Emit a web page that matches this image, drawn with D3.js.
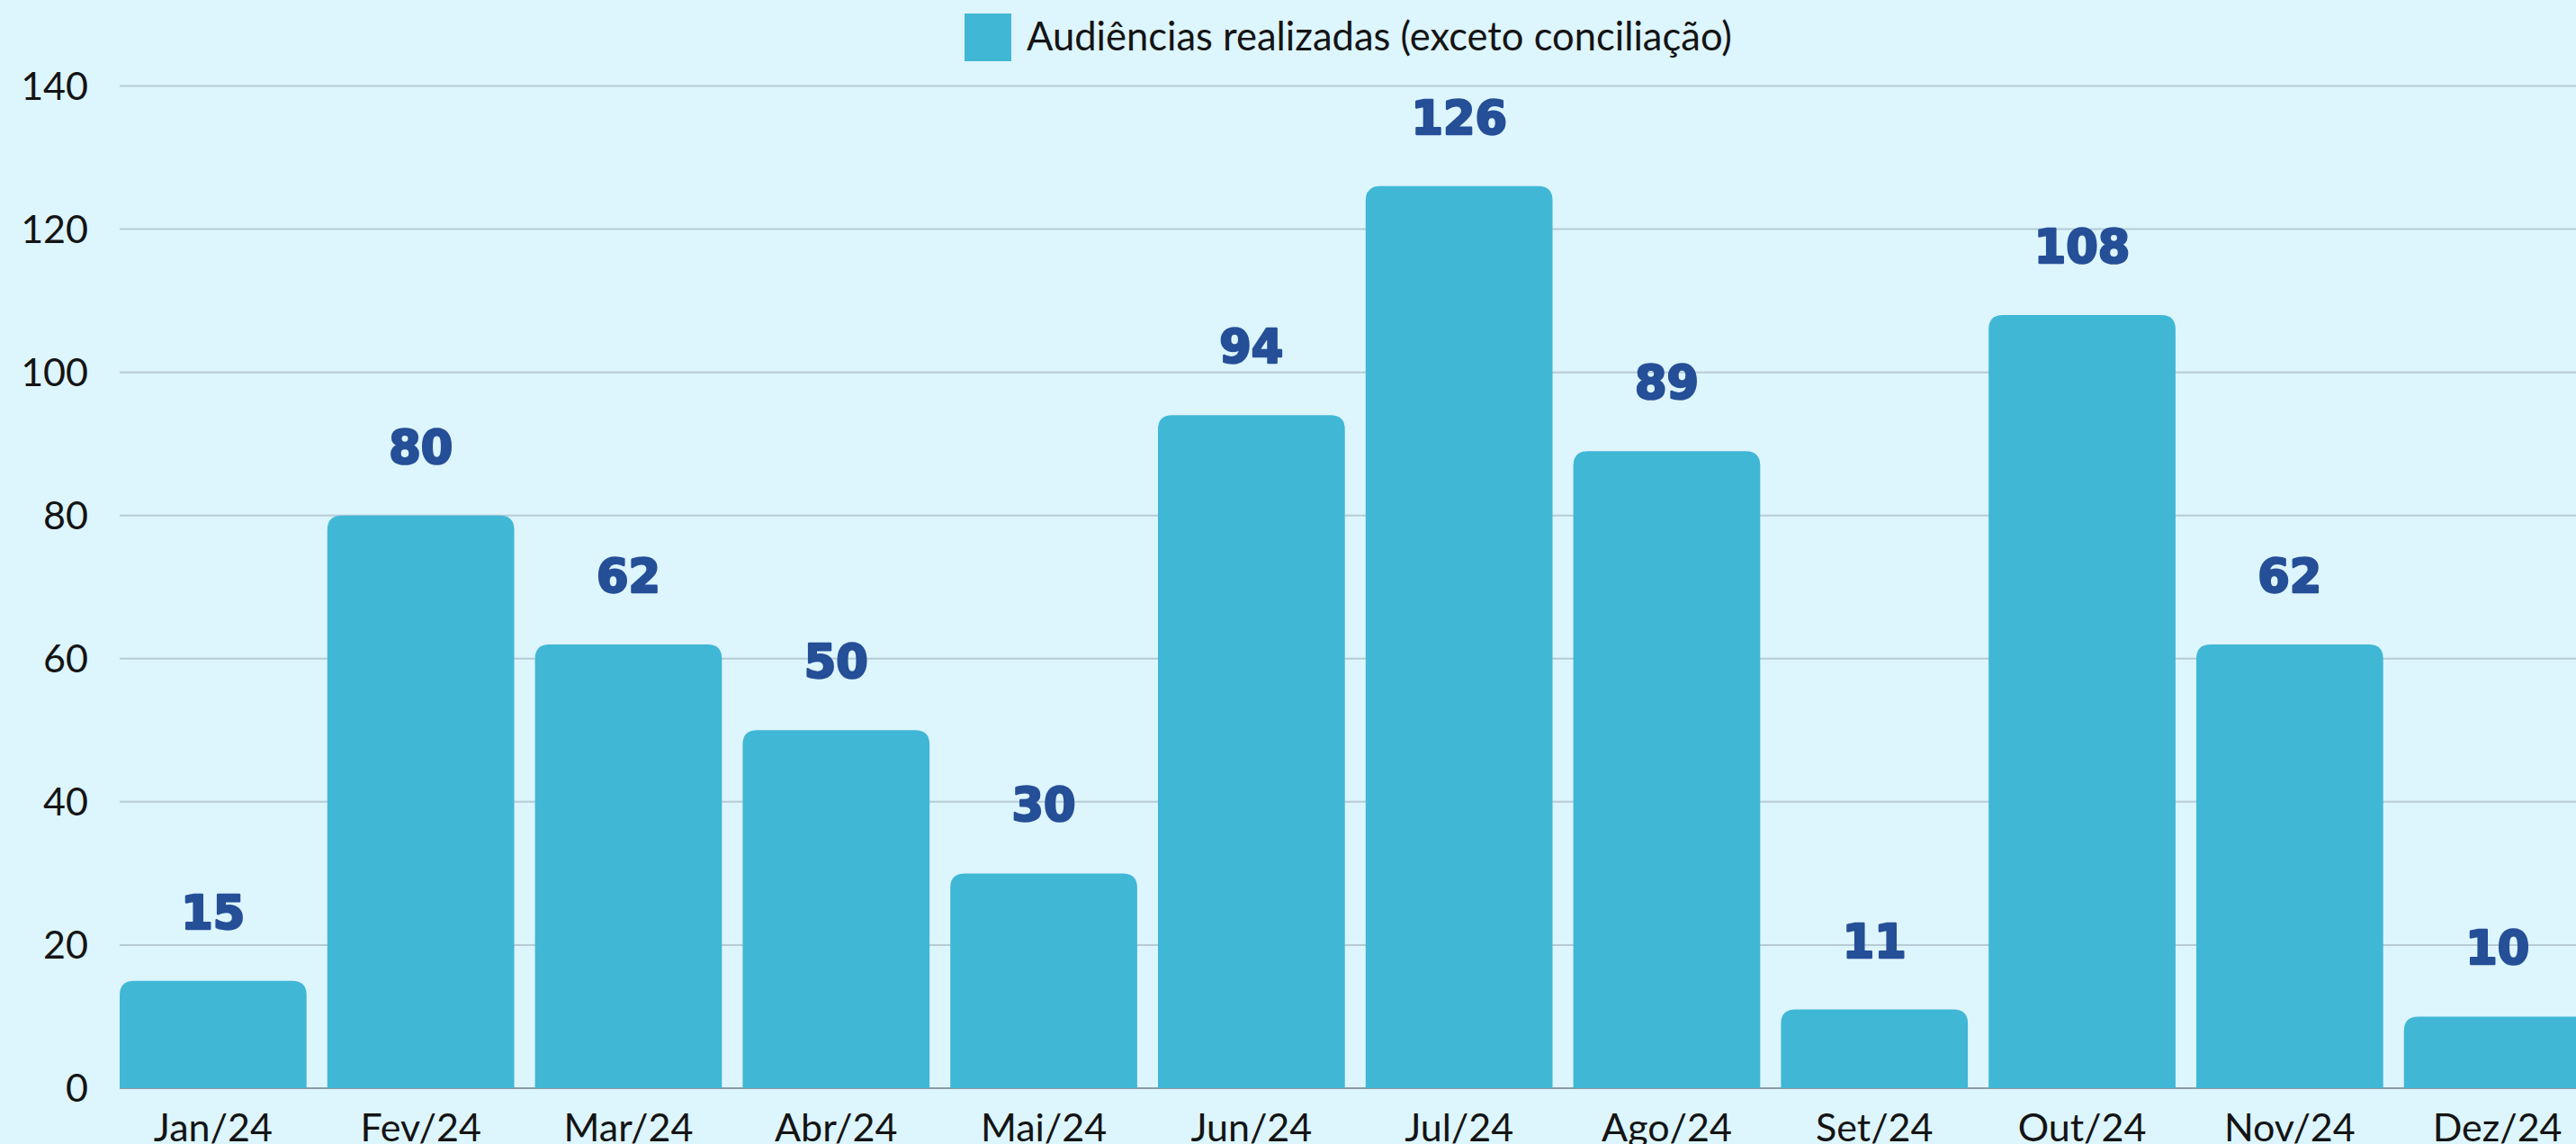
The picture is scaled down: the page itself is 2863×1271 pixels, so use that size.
<!DOCTYPE html>
<html>
<head>
<meta charset="utf-8">
<script src="https://cdn.jsdelivr.net/npm/d3@7"></script>
<style>
    html, body { margin: 0; padding: 0; background: #ddf5fd; overflow: hidden; }
    #chart { width: 2863px; height: 1271px; }
</style>
</head>
<body>
<div id="chart"></div>
<script>
// data
var months = ["Jan/24", "Fev/24", "Mar/24", "Abr/24", "Mai/24", "Jun/24",
              "Jul/24", "Ago/24", "Set/24", "Out/24", "Nov/24", "Dez/24"]
var audiencias = [15, 80, 62, 50, 30, 94, 126, 89, 11, 108, 62, 10]
var yTicks = [0, 20, 40, 60, 80, 100, 120, 140]
var seriesName = "Audiências realizadas (exceto conciliação)"

var width = 2863, height = 1271
var margin = {left: 133, top: 95.5, bottom: 62}
var barColor = "#41b7d6"
var labelColor = "#254f97"

var svg = d3.select("#chart").append("svg")
    .attr("width", width)
    .attr("height", height)

svg.append("rect")
    .attr("width", width)
    .attr("height", height)
    .attr("fill", "#ddf5fd")

var x = d3.scaleBand()
    .domain(months)
    .range([margin.left, margin.left + 2746.5])
    .paddingInner(0.1)
    .paddingOuter(0)

var y = d3.scaleLinear()
    .domain([0, 140])
    .range([height - margin.bottom, margin.top])

// gridlines
svg.append("g").selectAll("line")
    .data(yTicks.filter(function(d) { return d > 0 }))
    .enter().append("line")
    .attr("x1", margin.left)
    .attr("x2", width)
    .attr("y1", function(d) { return y(d) })
    .attr("y2", function(d) { return y(d) })
    .attr("stroke", "#b6cbd5")
    .attr("stroke-width", 2)

// baseline
svg.append("line")
    .attr("x1", margin.left)
    .attr("x2", width)
    .attr("y1", y(0))
    .attr("y2", y(0))
    .attr("stroke", "#8d9ca3")
    .attr("stroke-width", 2)

// y tick labels
svg.append("g").selectAll("text")
    .data(yTicks)
    .enter().append("text")
    .attr("x", 98)
    .attr("y", function(d) { return y(d) })
    .attr("dy", "0.35em")
    .attr("text-anchor", "end")
    .attr("font-family", "Lato")
    .attr("font-size", 43)
    .attr("fill", "#141414")
    .text(function(d) { return d })

// bars with rounded top corners
function topRounded(x0, y0, w, h, r) {
    r = Math.min(r, h, w / 2)
    return "M" + x0 + "," + (y0 + h) +
        "V" + (y0 + r) +
        "Q" + x0 + "," + y0 + " " + (x0 + r) + "," + y0 +
        "H" + (x0 + w - r) +
        "Q" + (x0 + w) + "," + y0 + " " + (x0 + w) + "," + (y0 + r) +
        "V" + (y0 + h) + "Z"
}

svg.append("g").selectAll("path")
    .data(audiencias)
    .enter().append("path")
    .attr("d", function(d, i) {
        return topRounded(x(months[i]), y(d), x.bandwidth(), y(0) - y(d), 16)
    })
    .attr("fill", barColor)

// value labels (stroke makes dejavu look closer to the heavy original face)
svg.append("g").selectAll("text")
    .data(audiencias)
    .enter().append("text")
    .attr("x", function(d, i) { return x(months[i]) + x.bandwidth() / 2 })
    .attr("y", function(d) { return y(d) - 58 })
    .attr("text-anchor", "middle")
    .attr("font-family", "DejaVu Sans")
    .attr("font-weight", "bold")
    .attr("font-size", 51)
    .attr("fill", labelColor)
    .attr("stroke", labelColor)
    .attr("stroke-width", 2.5)
    .attr("stroke-linejoin", "round")
    .text(function(d) { return d })

// x labels
svg.append("g").selectAll("text")
    .data(months)
    .enter().append("text")
    .attr("x", function(d) { return x(d) + x.bandwidth() / 2 })
    .attr("y", y(0) + 59)
    .attr("text-anchor", "middle")
    .attr("font-family", "Lato")
    .attr("font-size", 43)
    .attr("fill", "#141414")
    .text(function(d) { return d })

// legend
svg.append("rect")
    .attr("x", 1072)
    .attr("y", 15)
    .attr("width", 52)
    .attr("height", 53)
    .attr("fill", barColor)
svg.append("text")
    .attr("x", 1141)
    .attr("y", 41)
    .attr("dy", "0.35em")
    .attr("font-family", "Lato")
    .attr("font-size", 43.5)
    .attr("fill", "#141414")
    .text(seriesName)
</script>
</body>
</html>
